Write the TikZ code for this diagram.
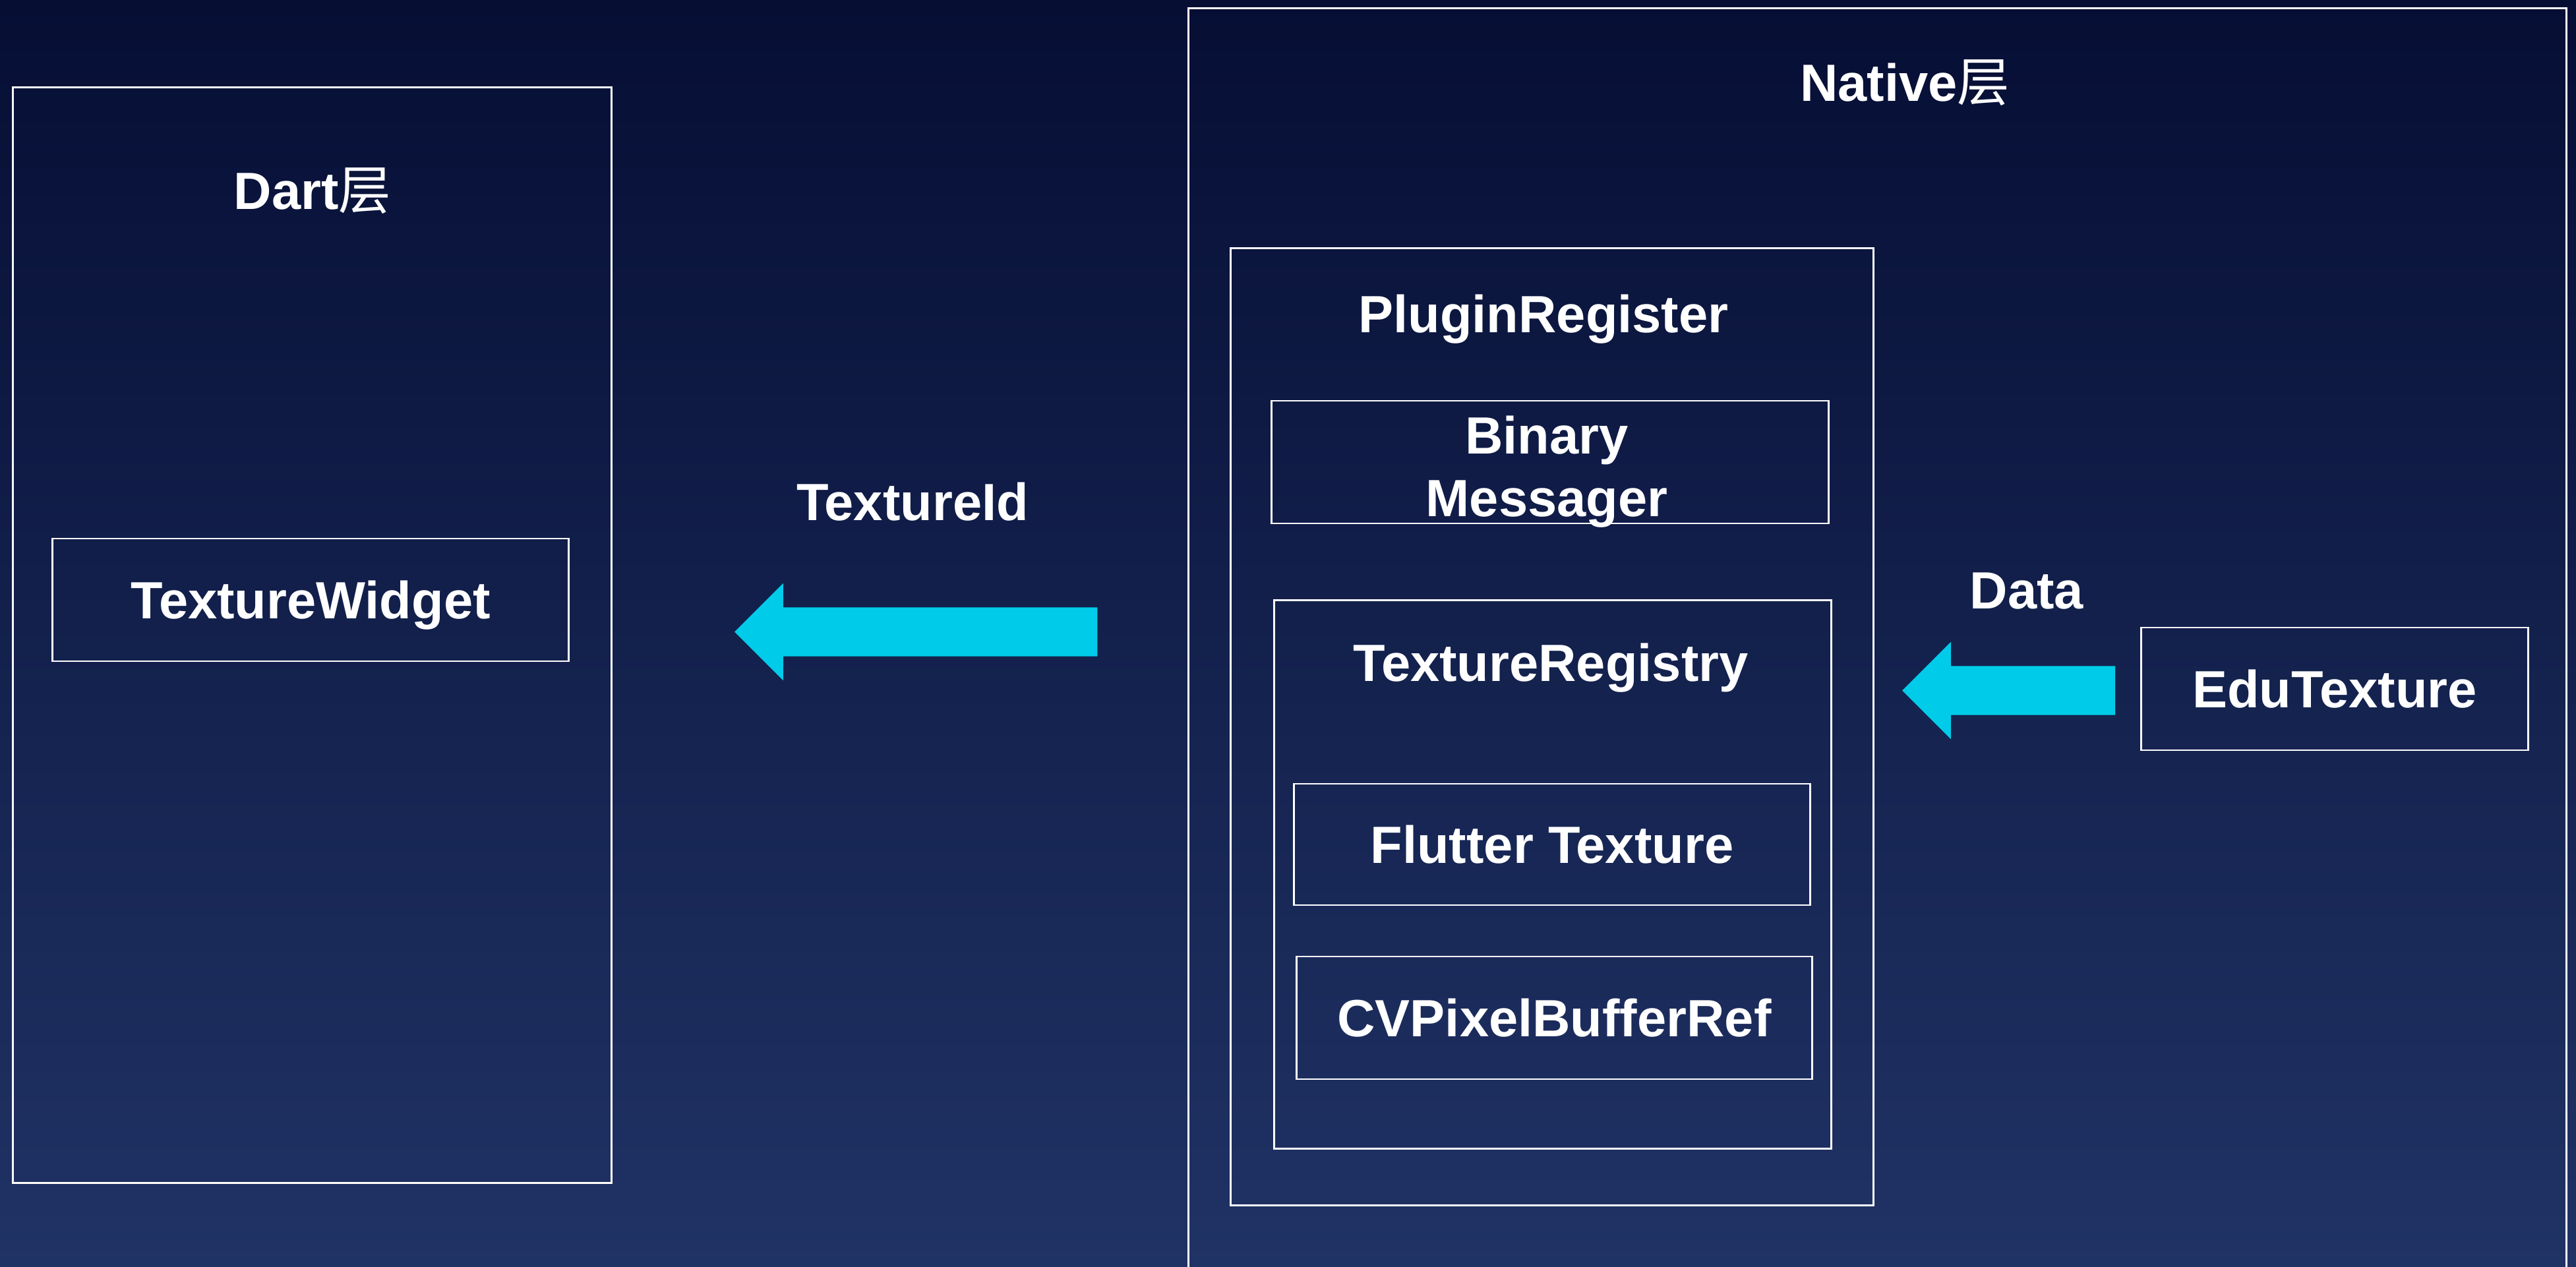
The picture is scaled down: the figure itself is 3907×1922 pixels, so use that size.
\documentclass[tikz,border=0pt]{standalone}
\usepackage{fontspec}
\setmainfont{Liberation Sans}
\newfontfamily\cjk{Noto Sans CJK SC}
\usetikzlibrary{shapes.arrows}
\definecolor{bgtop}{RGB}{6,14,52}
\definecolor{bgbottom}{RGB}{32,51,101}
\definecolor{flow}{RGB}{0,204,234}

\begin{document}
\begin{tikzpicture}[x=0.01cm, y=-0.01cm,
        box/.style={draw=white, line width=0.8pt, inner sep=0pt},
        tag/.style={text=white, inner sep=0pt, font=\bfseries\fontsize{22.6}{27}\selectfont},
        leaf/.style={box, tag, text height=16.2pt, text depth=0pt},
        flowarrow/.style={single arrow, fill=flow, draw=none, shape border rotate=180,
            single arrow tip angle=90, single arrow head extend=0.365cm,
            inner xsep=0pt, inner ysep=0.365cm, anchor=tip}]
    \useasboundingbox (0,0) rectangle (3907,1922);
    \shade[top color=bgtop, bottom color=bgbottom] (0,0) rectangle (3907,1922);

    \node[box, minimum width=9.07cm, minimum height=16.61cm] (dart) at (473.5,963.5) {};
    \node[tag, anchor=base] (dartname) at (474,318) {Dart{\cjk\mdseries 层}};
    \node[leaf, minimum width=7.82cm, minimum height=1.86cm] (widget) at (471,910) {TextureWidget};

    \node[box, minimum width=20.89cm, minimum height=19.37cm] (native) at (2847.5,981.5) {};
    \node[tag, anchor=base] (nativename) at (2889,154) {Native{\cjk\mdseries 层}};

    \node[box, minimum width=9.74cm, minimum height=14.51cm] (plugin) at (2354,1102.5) {};
    \node[tag, anchor=base] (pluginname) at (2341,505) {PluginRegister};
    \node[box, minimum width=8.44cm, minimum height=1.86cm] (binary) at (2351,701) {};
    \node[tag, anchor=base, align=center] (binaryname) at (2346,783) {Binary\\Messager};

    \node[box, minimum width=8.44cm, minimum height=8.31cm] (registry) at (2355,1326.5) {};
    \node[tag, anchor=base] (registryname) at (2352,1033) {TextureRegistry};
    \node[leaf, minimum width=7.82cm, minimum height=1.84cm] (fluttertex) at (2354,1281) {Flutter Texture};
    \node[leaf, minimum width=7.81cm, minimum height=1.86cm] (pixelbuf) at (2357.5,1544) {CVPixelBufferRef};

    \node[leaf, minimum width=5.86cm, minimum height=1.86cm] (edutex) at (3541,1045) {EduTexture};

    \node[flowarrow, minimum height=5.5cm] (idflow) at (1113,958.5) {};
    \node[tag, anchor=base] (idname) at (1384,789) {TextureId};
    \node[flowarrow, minimum height=3.23cm] (dataflow) at (2884,1047.5) {};
    \node[tag, anchor=base] (dataname) at (3074,923) {Data};
\end{tikzpicture}
\end{document}
